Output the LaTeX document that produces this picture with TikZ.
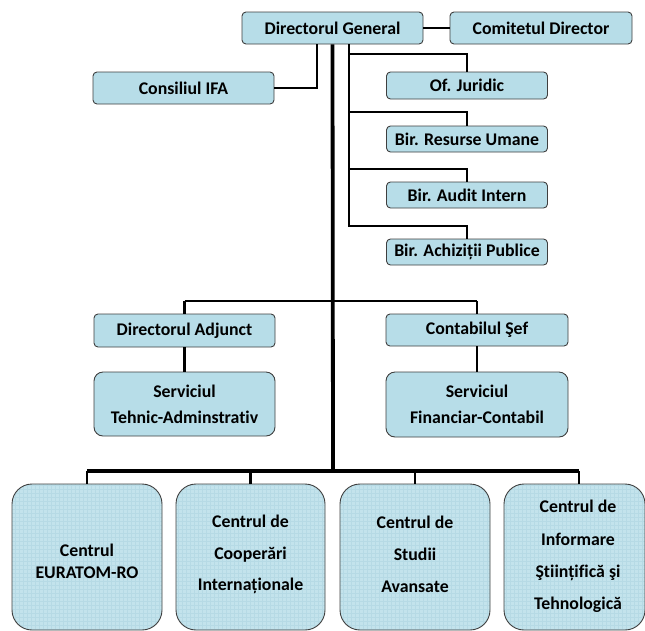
\documentclass[tikz,border=0pt]{standalone}
\usepackage{fontspec}
\setmainfont{Carlito}[Ligatures=NoCommon]
\definecolor{boxblue}{HTML}{B7DDE8}
\definecolor{gridblue}{HTML}{C3E3EC}
\definecolor{gridline}{HTML}{B6DAE5}
\definecolor{boxborder}{HTML}{3F3F3F}
\newcommand{\fsz}{17.8}
\begin{document}
\begin{tikzpicture}[x=1pt,y=-1pt,
  topbox/.style={draw=boxborder,fill=boxblue,line width=0.9pt,rounded corners=4pt,
    inner sep=0pt,minimum width=#1,font=\fontsize{\fsz}{20}\selectfont\bfseries,align=center},
  centrebox/.style={draw=boxborder,fill=gridblue,line width=0.9pt,rounded corners=20pt,
    inner sep=0pt,minimum width=#1,minimum height=146pt,
    path picture={\draw[gridline,line width=0.3pt,step=4pt]
      (path picture bounding box.south west) grid (path picture bounding box.north east);}},
  centretext/.style={inner sep=0pt,align=center,font=\fontsize{\fsz}{20}\selectfont\bfseries},
  thin/.style={line width=2.4pt,black},
  thick/.style={line width=3.8pt,black}]
\useasboundingbox (0,0) rectangle (645,630);

% top level
\node[topbox=181pt,minimum height=32pt] (dg) at (332.5,28) {Directorul General};
\node[topbox=182pt,minimum height=32pt] (cd) at (541,28) {Comitetul Director};
\node[topbox=181pt,minimum height=32pt] (ifa) at (183.5,88) {Consiliul IFA};

% right offices
\node[topbox=161pt,minimum height=27pt] (oj) at (467,85.5) {Of. Juridic};
\node[topbox=161pt,minimum height=26pt] (bru) at (467,139) {Bir. Resurse Umane};
\node[topbox=161pt,minimum height=26pt] (bai) at (467,195) {Bir. Audit Intern};
\node[topbox=161pt,minimum height=26pt] (bap) at (467,252) {Bir. Achiziții Publice};

% middle level
\node[topbox=181pt,minimum height=33pt] (da) at (184.5,330.5) {Directorul Adjunct};
\node[topbox=182pt,minimum height=32pt] (cs) at (477,330) {Contabilul Şef};
\node[topbox=181pt,minimum height=64pt,rounded corners=9pt,
  font=\fontsize{\fsz}{26}\selectfont\bfseries] (sta) at (184.5,404) {Serviciul\\Tehnic-Adminstrativ};
\node[topbox=182pt,minimum height=65pt,rounded corners=9pt,
  font=\fontsize{\fsz}{26}\selectfont\bfseries] (sfc) at (477,404.5) {Serviciul\\Financiar-Contabil};

% bottom centres
\node[centrebox=150pt] (b1) at (87,557) {};
\node[centrebox=149pt] (b2) at (250.5,557) {};
\node[centrebox=150pt] (b3) at (415,557) {};
\node[centrebox=141pt] (b4) at (574.5,557) {};
\node[centretext,font=\fontsize{\fsz}{22}\selectfont\bfseries] (t1) at (87,561) {Centrul\\EURATOM-RO};
\node[centretext,font=\fontsize{\fsz}{31.7}\selectfont\bfseries] (t2) at (250.5,554.5) {Centrul de\\Cooperări\\Internaționale};
\node[centretext,font=\fontsize{\fsz}{31.7}\selectfont\bfseries] (t3) at (415,554.5) {Centrul de\\Studii\\Avansate};
\node[centretext,font=\fontsize{\fsz}{32.3}\selectfont\bfseries] (t4) at (578,556.5) {Centrul de\\Informare\\Ştiințifică şi\\Tehnologică};

% junction coordinates
\coordinate (ifaj) at (317,44);
\coordinate (rj) at (349,44);
\coordinate (r1) at (467,54);
\coordinate (r2) at (467,112);
\coordinate (r3) at (467,169);
\coordinate (r4) at (467,226);
\coordinate (m1) at (184.5,301);
\coordinate (m2) at (477,301);
\coordinate (bbus) at (333,471);
\coordinate (j1) at (87,471);
\coordinate (j2) at (250.5,471);
\coordinate (j3) at (415,471);
\coordinate (j4) at (579,471);

% connectors
\draw[thin] (dg.east) -- (cd.west);
\draw[thin] (ifaj) |- (ifa.east);
\draw[thin] (rj) |- (r1) -- (oj.north);
\draw[thin] (rj) |- (r2) -- (bru.north);
\draw[thin] (rj) |- (r3) -- (bai.north);
\draw[thin] (rj) |- (r4) -- (bap.north);
\draw[thin] (m1) -- (m2);
\draw[thin] (m1) -- (da.north);
\draw[thin] (m2) -- (cs.north);
\draw[thin] (da.south) -- (sta.north);
\draw[thin] (cs.south) -- (sfc.north);
\draw[thick] (j1) -- (j4);
\draw[thin] (j1) -- (b1.north);
\draw[thin] (j2) -- (b2.north);
\draw[thin] (j3) -- (b3.north);
\draw[thin] (j4) -- (j4 |- b4.north);
\draw[thick] (dg.south) -- (bbus);
\end{tikzpicture}
\end{document}
